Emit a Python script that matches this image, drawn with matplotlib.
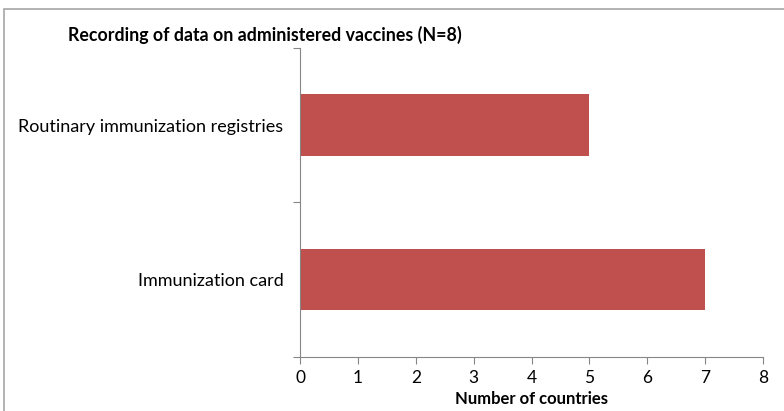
import matplotlib.pyplot as plt
from matplotlib.patches import Rectangle

categories = ['Immunization card', 'Routinary immunization registries']
countries = [7, 5]
xticks = [0, 1, 2, 3, 4, 5, 6, 7, 8]

plt.rcParams['font.family'] = ['Lato', 'DejaVu Sans']

fig = plt.figure(figsize=(7.84, 4.11), dpi=100)
ax = fig.add_axes([0.3827, 0.1326, 0.5905, 0.7506])

ax.barh(range(len(categories)), countries, height=0.4, color='#C0504D')
ax.set_ylim(-0.5, 1.5)
ax.set_xlim(0, 8)
ax.set_xticks(xticks)
ax.set_yticks([-0.5, 0.5, 1.5])
ax.set_yticklabels([])
ax.set_yticks(range(len(categories)), minor=True)
ax.set_yticklabels(categories, minor=True, fontsize=13)
ax.tick_params(axis='y', which='minor', length=0, pad=12)
ax.tick_params(axis='y', which='major', length=5, color='#868686')
ax.tick_params(axis='x', length=5, color='#868686', labelsize=12.5, pad=5)
ax.set_xlabel('Number of countries', fontsize=12, fontweight='bold', labelpad=3)

for s in ['top', 'right']:
    ax.spines[s].set_visible(False)
for s in ['left', 'bottom']:
    ax.spines[s].set_color('#868686')

fig.text(265 / 784, 1 - 35 / 411, 'Recording of data on administered vaccines (N=8)',
         ha='center', va='center', fontsize=12.8, fontweight='bold')

# chart area frame
fig.patches.append(Rectangle((4 / 784, -0.1), 1.2, 1 - 9 / 411 + 0.1,
                             transform=fig.transFigure, fill=False,
                             edgecolor='#A6A6A6', linewidth=1.2))

fig.savefig('out.png', dpi=100)
